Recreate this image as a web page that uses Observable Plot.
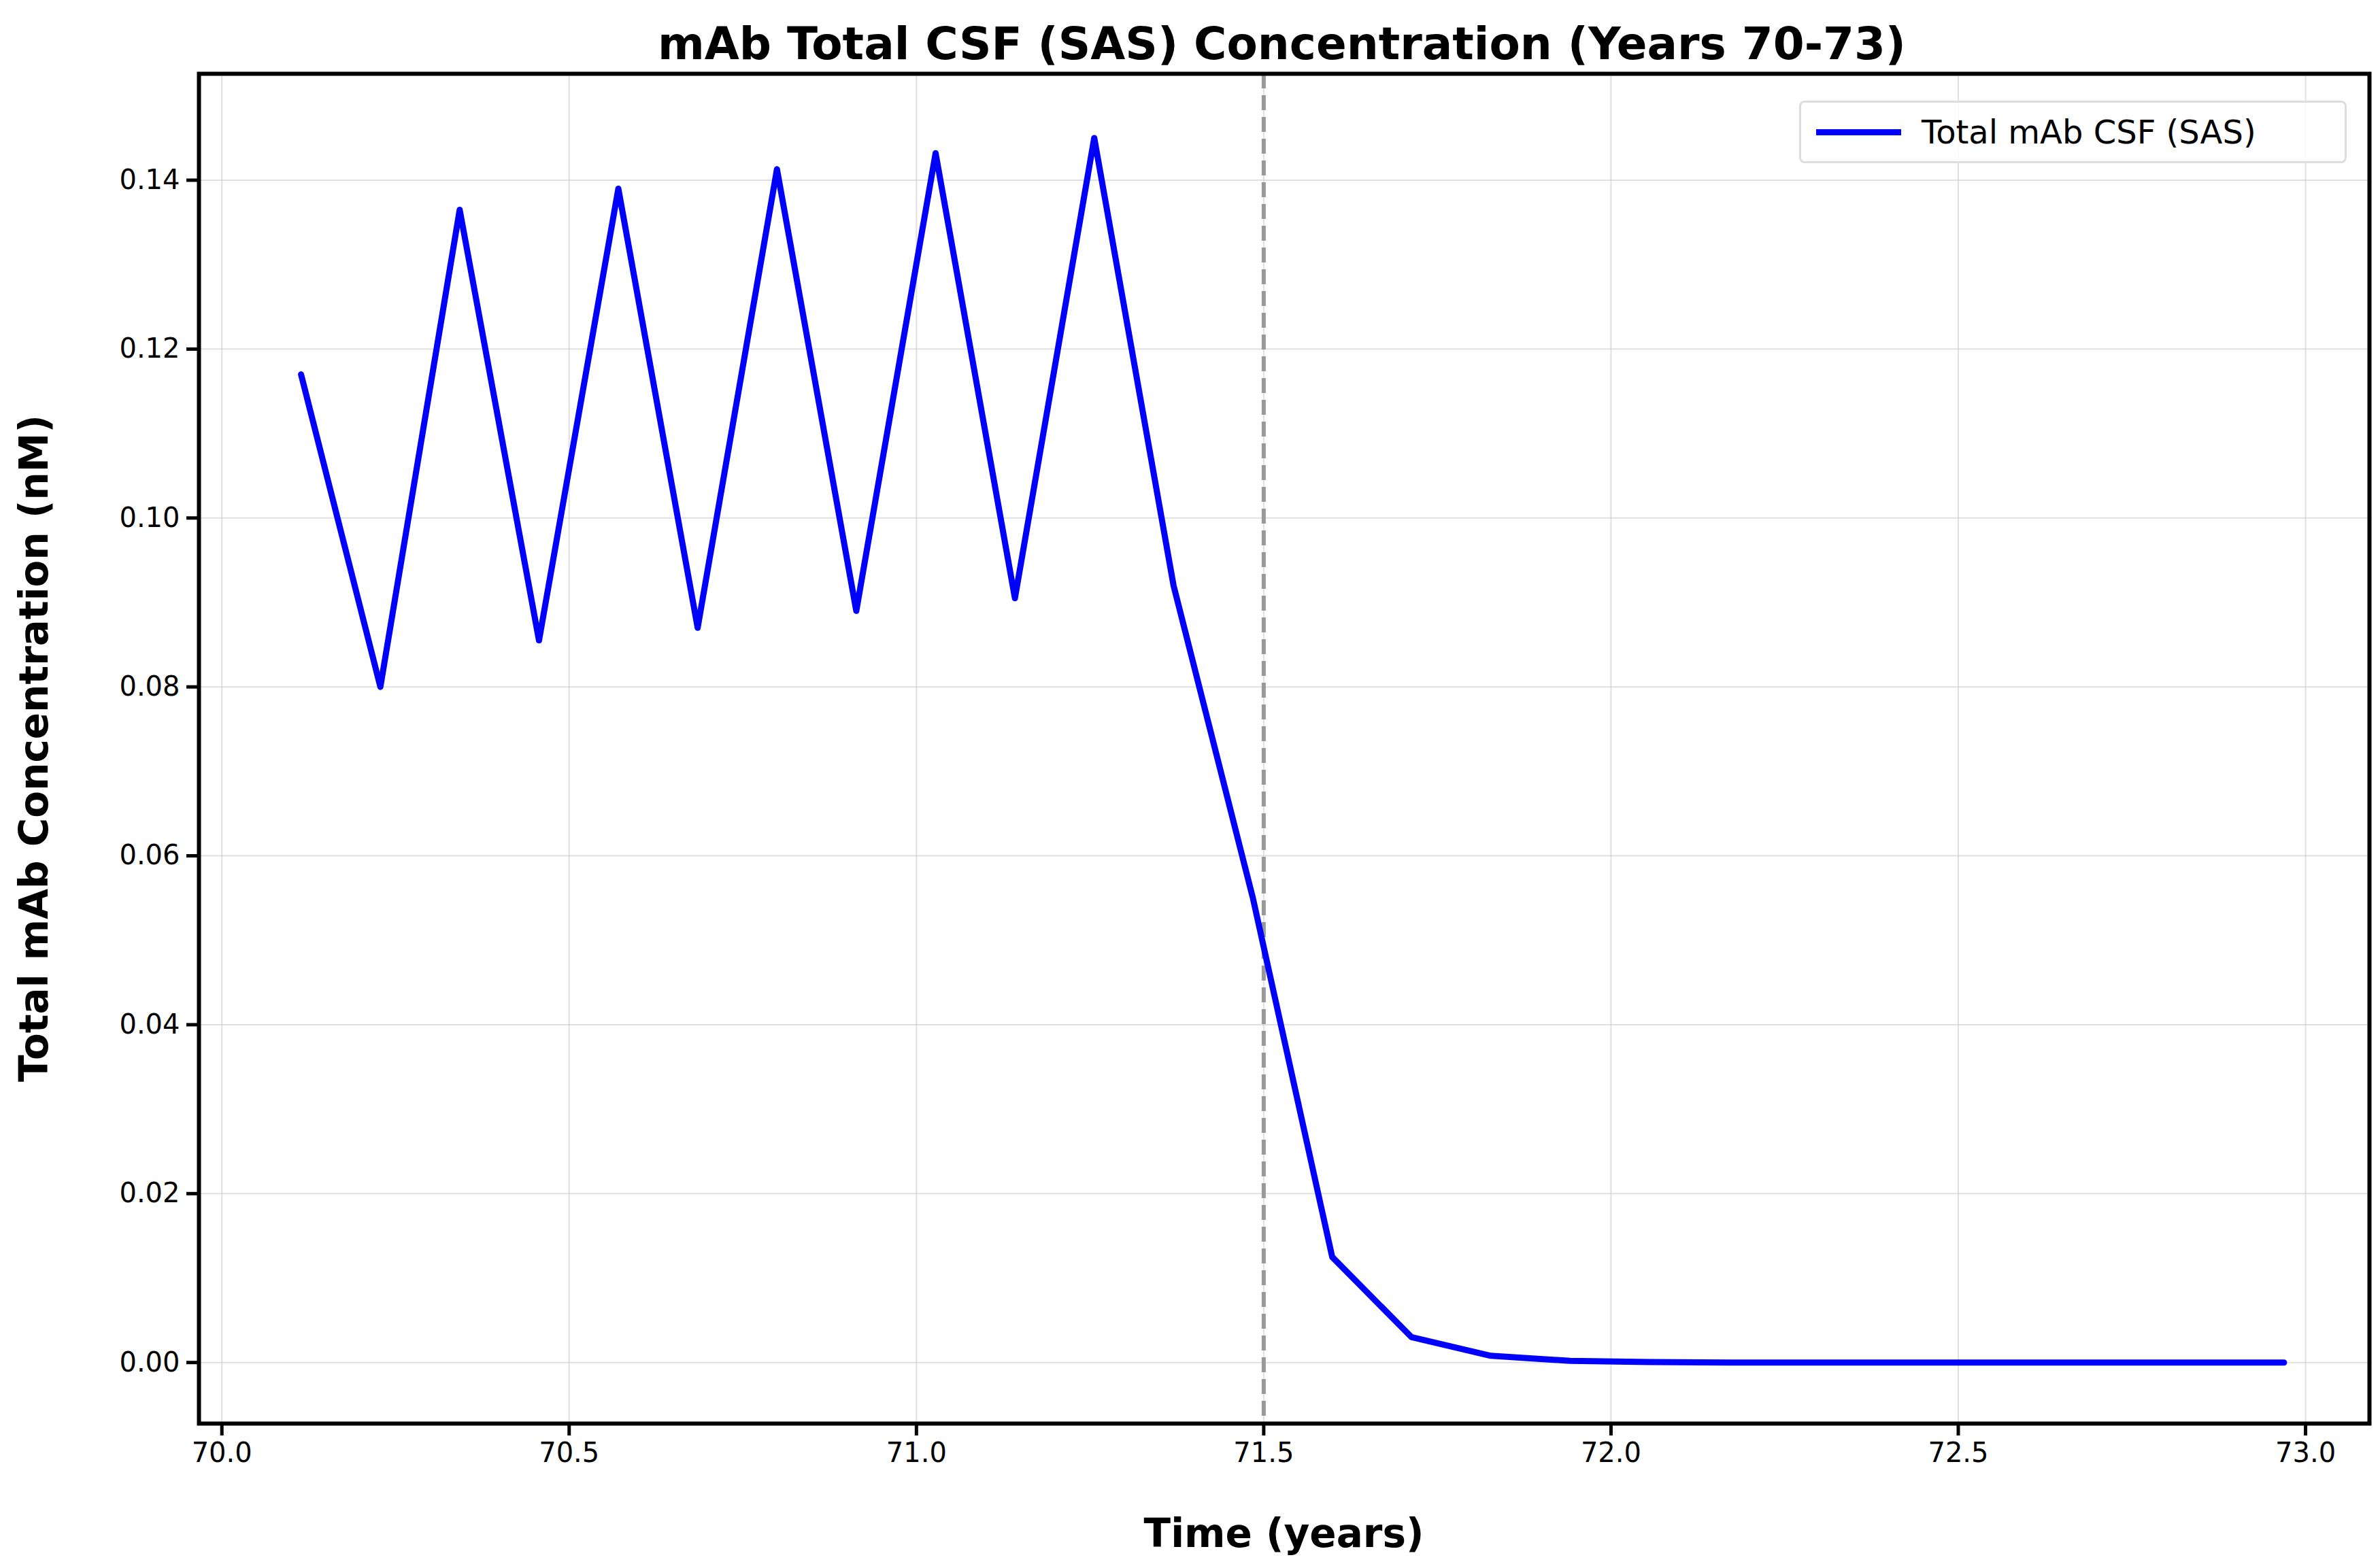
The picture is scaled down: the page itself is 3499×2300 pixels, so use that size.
<!DOCTYPE html>
<html>
<head>
<meta charset="utf-8">
<script src="https://cdn.jsdelivr.net/npm/d3@7"></script>
<script src="https://cdn.jsdelivr.net/npm/@observablehq/plot@0.6"></script>
<style>
  body { margin: 0; background: white; font-family: "DejaVu Sans", sans-serif; }
  #wrap { position: relative; width: 3499px; height: 2300px; }
  #title { height: 90px; text-align: center; font-weight: bold; font-size: 66px; line-height: 130px; padding-left: 270px; }
  #legend { position: absolute; left: 2645px; top: 148px; width: 805px; height: 92px; border: 3px solid #ddd;
    border-radius: 8px; background: rgba(255,255,255,0.85); display: flex; align-items: center; font-size: 48px; box-sizing: border-box; }
  #legend span.sw { display: inline-block; width: 125px; height: 9px; background: blue; margin: 0 30px 0 22px; }
</style>
</head>
<body>
<div id="wrap">
  <div id="title">mAb Total CSF (SAS) Concentration (Years 70-73)</div>
  <div id="chart"></div>
  <div id="legend"><span class="sw"></span>Total mAb CSF (SAS)</div>
</div>
<script>
const step = 0.1142;
const times = d3.range(26).map(k => 70.114 + k * step);
const conc = [0.117, 0.080, 0.1365, 0.0855, 0.139, 0.087, 0.1413, 0.089, 0.1432, 0.0905,
  0.145, 0.092, 0.055, 0.0125, 0.003, 0.0008, 0.0002, 0.00005, 0, 0, 0, 0, 0, 0, 0, 0];
const xTicks = [70.0, 70.5, 71.0, 71.5, 72.0, 72.5, 73.0];
const yTicks = [0, 0.02, 0.04, 0.06, 0.08, 0.10, 0.12, 0.14];
const cutoff = 71.5;

const data = times.map((t, i) => ({t, c: conc[i]}));

const chart = Plot.plot({
  width: 3499,
  height: 2210,
  marginLeft: 292,
  marginRight: 16,
  marginTop: 18,
  marginBottom: 207,
  style: {fontFamily: "DejaVu Sans, sans-serif", fontSize: "40px", color: "black"},
  x: {domain: [69.967, 73.092], ticks: xTicks, tickFormat: d3.format(".1f"), tickSize: 18, tickPadding: 10,
      label: "Time (years)", labelAnchor: "center", labelArrow: "none", labelOffset: 175},
  y: {domain: [-0.00723, 0.1526], ticks: yTicks, tickFormat: d3.format(".2f"), tickSize: 18, tickPadding: 10,
      label: "Total mAb Concentration (nM)", labelAnchor: "center", labelArrow: "none", labelOffset: 265},
  marks: [
    Plot.gridX(xTicks, {stroke: "#ccc", strokeOpacity: 0.6, strokeWidth: 2}),
    Plot.gridY(yTicks, {stroke: "#ccc", strokeOpacity: 0.6, strokeWidth: 2}),
    Plot.ruleX([cutoff], {stroke: "#999", strokeWidth: 6, strokeDasharray: "22,10"}),
    Plot.line(data, {x: "t", y: "c", stroke: "blue", strokeWidth: 9}),
    Plot.axisX({ticks: xTicks, tickFormat: d3.format(".1f"), tickSize: 18, strokeWidth: 5, tickPadding: 10, label: null}),
    Plot.axisY({ticks: yTicks, tickFormat: d3.format(".2f"), tickSize: 18, strokeWidth: 5, tickPadding: 10, label: null}),
    Plot.frame({stroke: "black", strokeWidth: 6})
  ]
});
d3.select("#chart").append(() => chart);
const svg = d3.select(chart);
// axis labels in bold
svg.append("text").attr("x", (292 + 3483) / 2).attr("y", 2210 - 25).attr("text-anchor", "middle")
  .attr("font-size", 58).attr("font-weight", "bold").text("Time (years)");
svg.append("text").attr("transform", `translate(70, ${(18 + 2003) / 2}) rotate(-90)`).attr("text-anchor", "middle")
  .attr("font-size", 58).attr("font-weight", "bold").text("Total mAb Concentration (nM)");
</script>
</body>
</html>
